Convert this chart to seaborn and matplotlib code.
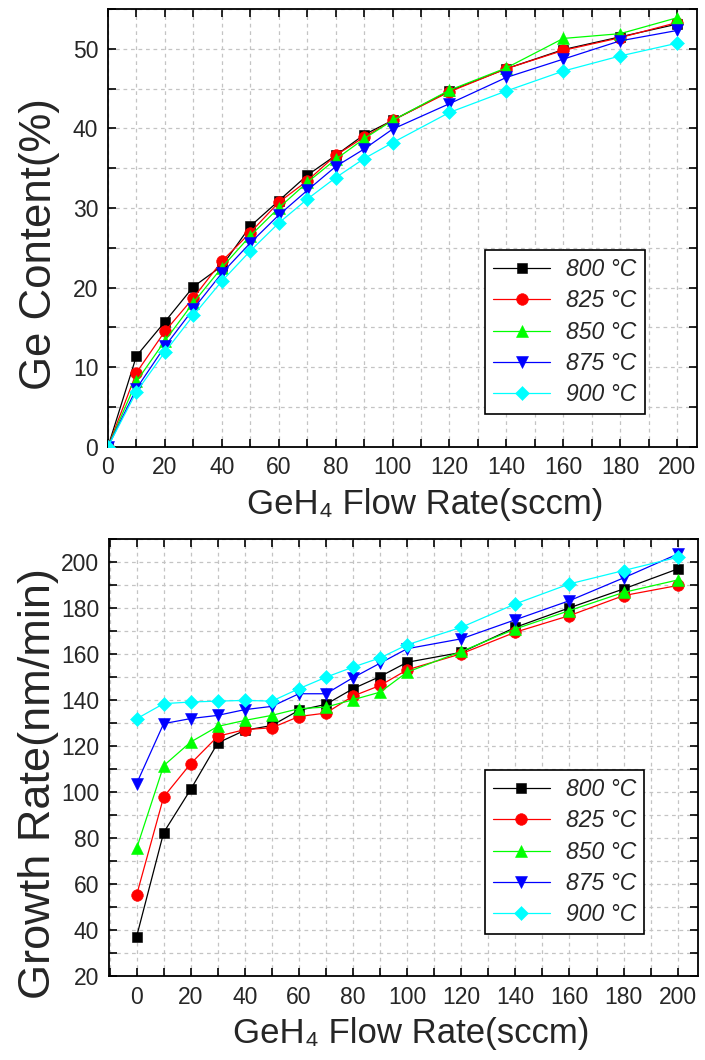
import matplotlib
matplotlib.use("Agg")
import matplotlib.pyplot as plt
import numpy as np
import pandas as pd
import seaborn as sns
from matplotlib.ticker import MultipleLocator, FuncFormatter

# GeH4 flow rates (sccm)
flow = [0, 10, 20, 30, 40, 50, 60, 70, 80, 90, 100, 120, 140, 160, 180, 200]

temps = ["800 °C", "825 °C", "850 °C", "875 °C", "900 °C"]
colors = ["#000000", "#ff0000", "#00ff00", "#0000ff", "#00ffff"]
marker_shapes = ["s", "o", "^", "v", "D"]
marker_sizes = [7.4, 8.4, 8.6, 8.6, 7.2]

# Ge content (%)
ge_800 = [0, 11.4, 15.7, 20.1, 22.7, 27.7, 30.9, 34.1, 36.6, 39.2, 41.0, 44.7, 47.5, 49.9, 51.5, 53.1]
ge_825 = [0, 9.3, 14.5, 18.7, 23.3, 26.9, 30.7, 33.4, 36.6, 38.9, 41.0, 44.6, 47.5, 49.8, 51.4, 53.3]
ge_850 = [0, 8.2, 13.3, 18.1, 22.5, 26.5, 30.0, 33.2, 36.1, 38.7, 41.0, 44.8, 47.6, 51.3, 51.9, 53.9]
ge_875 = [0, 7.3, 12.6, 17.3, 21.8, 25.6, 29.1, 32.2, 35.2, 37.4, 39.9, 43.1, 46.4, 48.7, 51.0, 52.3]
ge_900 = [0, 6.9, 11.9, 16.5, 20.8, 24.6, 28.1, 31.1, 33.8, 36.2, 38.2, 42.0, 44.7, 47.2, 49.1, 50.7]

# Growth rate (nm/min)
gr_800 = [37.1, 82.4, 101.2, 121.4, 126.9, 129.0, 135.6, 138.2, 145.0, 150.3, 156.5, 160.8, 171.7, 180.2, 188.4, 197.1]
gr_825 = [55.2, 97.9, 112.4, 124.3, 127.2, 128.0, 132.9, 134.4, 141.8, 146.4, 153.2, 160.2, 169.6, 176.8, 185.5, 189.9]
gr_850 = [75.5, 111.5, 121.8, 128.6, 131.2, 133.4, 136.3, 137.0, 140.2, 143.5, 152.2, 161.2, 171.0, 179.0, 186.9, 192.3]
gr_875 = [103.7, 129.8, 132.0, 133.4, 135.9, 137.3, 142.8, 142.8, 149.8, 156.1, 162.4, 166.7, 175.0, 183.3, 193.2, 203.6]
gr_900 = [131.9, 138.5, 139.2, 139.6, 139.9, 139.6, 145.0, 150.0, 154.4, 158.4, 164.1, 171.7, 181.9, 190.6, 196.4, 202.2]

ge_series = [ge_800, ge_825, ge_850, ge_875, ge_900]
gr_series = [gr_800, gr_825, gr_850, gr_875, gr_900]

x_title = "GeH₄ Flow Rate(sccm)"


def long_form(series, name):
    frames = []
    for t, vals in zip(temps, series):
        frames.append(pd.DataFrame({"flow": flow, name: vals, "temp": t}))
    return pd.concat(frames, ignore_index=True)


sns.set_style("ticks")
plt.rcParams["font.family"] = ["Liberation Sans", "DejaVu Sans"]
plt.rcParams["axes.linewidth"] = 1.3

fig = plt.figure(figsize=(7.05, 10.6), dpi=100)
W, H = 705.0, 1060.0
ax1 = fig.add_axes([108 / W, 1 - 446.7 / H, 589 / W, 437.7 / H])
ax2 = fig.add_axes([109 / W, 1 - 976 / H, 589 / W, 436.7 / H])

palette = dict(zip(temps, colors))
markers = dict(zip(temps, marker_shapes))


def draw(ax, df, ycol):
    sns.lineplot(data=df, x="flow", y=ycol, hue="temp", style="temp",
                 hue_order=temps, style_order=temps, palette=palette,
                 markers=markers, dashes=False, errorbar=None,
                 linewidth=0.9, legend=False, ax=ax, zorder=3)
    lines = ax.lines[:len(temps)]
    for ln, c, ms in zip(lines, colors, marker_sizes):
        ln.set_markersize(ms)
        ln.set_markeredgecolor(c)
        ln.set_markerfacecolor(c)
        ln.set_markeredgewidth(0.4)
    return lines


def style_axes(ax, xlim, ylim, xmaj, xmin, ymaj, ymin):
    ax.set_xlim(*xlim)
    ax.set_ylim(*ylim)
    ax.xaxis.set_major_locator(MultipleLocator(xmaj))
    ax.xaxis.set_minor_locator(MultipleLocator(xmin))
    ax.yaxis.set_major_locator(MultipleLocator(ymaj))
    ax.yaxis.set_minor_locator(MultipleLocator(ymin))
    ax.xaxis.set_major_formatter(FuncFormatter(lambda v, p: f"{v:.0f}"))
    ax.yaxis.set_major_formatter(FuncFormatter(lambda v, p: f"{v:.0f}"))
    ax.grid(True, which="both", color="#c4c4c4", linestyle=(0, (3, 3)),
            linewidth=0.9)
    ax.set_axisbelow(True)
    ax.tick_params(which="both", direction="in", top=True, right=True,
                   length=6, width=1.2, color="black")
    ax.tick_params(axis="x", which="major", labelsize=16.5, pad=7)
    ax.tick_params(axis="y", which="major", labelsize=16.5, pad=7)
    for s in ax.spines.values():
        s.set_color("black")
        s.set_linewidth(1.3)


def add_legend(ax, lines, anchor):
    leg = ax.legend(lines, temps, loc="upper left", bbox_to_anchor=anchor,
                    borderaxespad=0, frameon=True, fancybox=False,
                    framealpha=1, edgecolor="black", numpoints=1,
                    handlelength=2.5, handletextpad=0.7, labelspacing=0.36,
                    borderpad=0.35,
                    prop={"family": "Liberation Sans", "style": "italic",
                          "size": 16.5})
    leg.get_frame().set_linewidth(1.2)
    leg.set_zorder(10)


# Ge content vs flow rate
df_ge = long_form(ge_series, "ge")
l1 = draw(ax1, df_ge, "ge")
style_axes(ax1, (0, 207), (0, 55), 20, 10, 10, 5)
ax1.set_xlabel(x_title, fontsize=25)
ax1.xaxis.set_label_coords(0.538, -0.095)
ax1.set_ylabel("Ge Content(%)", fontsize=31.5)
ax1.yaxis.set_label_coords(-0.082, 0.462)
add_legend(ax1, l1, (0.640, 0.449))

# Growth rate vs flow rate
df_gr = long_form(gr_series, "gr")
l2 = draw(ax2, df_gr, "gr")
style_axes(ax2, (-10.2, 207.5), (20, 210), 20, 10, 20, 10)
ax2.set_xlabel(x_title, fontsize=25)
ax2.xaxis.set_label_coords(0.513, -0.095)
ax2.set_ylabel("Growth Rate(nm/min)", fontsize=32.5)
ax2.yaxis.set_label_coords(-0.085, 0.44)
add_legend(ax2, l2, (0.638, 0.4717))

fig.savefig("out.png", dpi=100)
